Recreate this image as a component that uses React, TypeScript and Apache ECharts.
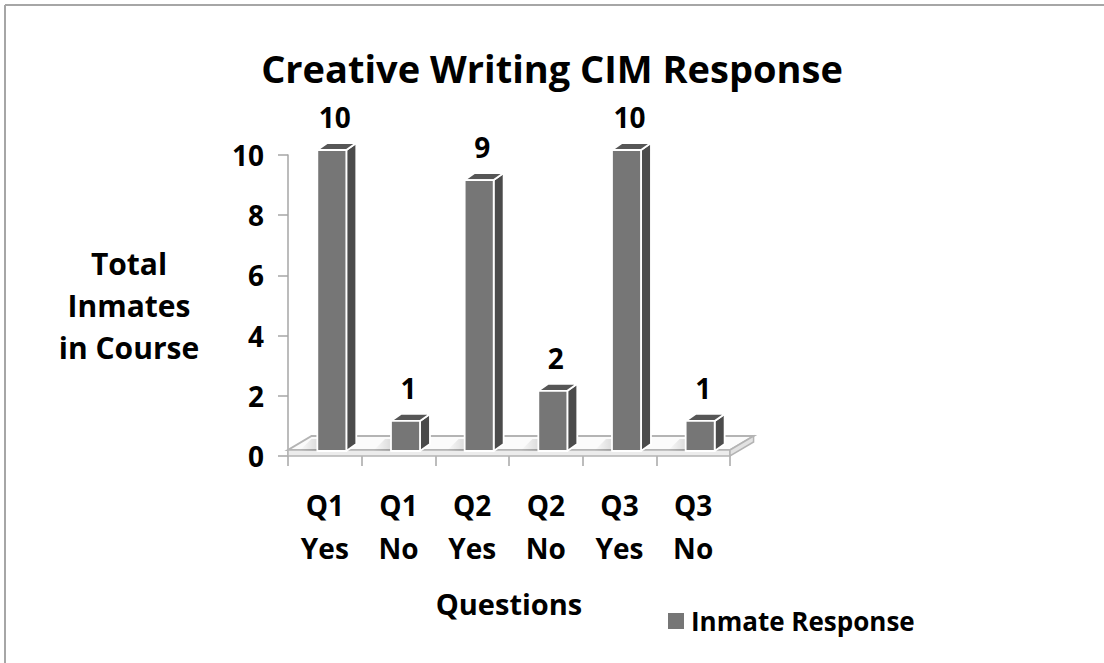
import React, { useEffect, useRef } from "react";
import * as echarts from "echarts";

const categories = ["Q1\nYes", "Q1\nNo", "Q2\nYes", "Q2\nNo", "Q3\nYes", "Q3\nNo"];
const values = [10, 1, 9, 2, 10, 1];
const seriesName = "Inmate Response";
const chartTitle = "Creative Writing CIM Response";
const yAxisTitle = "Total\nInmates\nin Course";
const xAxisTitle = "Questions";

const FONT = "'Open Sans', 'DejaVu Sans', sans-serif";

export default function App() {
  const ref = useRef<HTMLDivElement | null>(null);

  useEffect(() => {
    document.body.style.margin = "0";
    if (!ref.current) return;
    const chart = echarts.init(ref.current, null, { renderer: "svg" });

    const floorItem = (params: any, api: any) => {
      const first = api.coord([0, 0]);
      const last = api.coord([categories.length - 1, 0]);
      const bw = api.size([1, 0])[0];
      const x0 = first[0] - bw / 2;
      const x1 = last[0] + bw / 2;
      const yf = first[1];
      const th = 6;
      const ddx = bw * 0.32;
      const ddy = 14;
      const stroke = "#b4b4b4";
      return {
        type: "group",
        children: [
          {
            type: "polygon",
            shape: { points: [[x0, yf - th], [x1, yf - th], [x1 + ddx, yf - th - ddy], [x0 + ddx, yf - th - ddy]] },
            style: { fill: "#fbfbfb", stroke, lineWidth: 2 },
          },
          {
            type: "rect",
            shape: { x: x0, y: yf - th, width: x1 - x0, height: th },
            style: { fill: "#ececec", stroke, lineWidth: 1.5 },
          },
          {
            type: "polygon",
            shape: { points: [[x1, yf - th], [x1 + ddx, yf - th - ddy], [x1 + ddx, yf - ddy], [x1, yf]] },
            style: { fill: "#e2e2e2", stroke, lineWidth: 1.5 },
          },
        ],
      };
    };

    const barItem = (params: any, api: any) => {
      const i = api.value(0);
      const v = api.value(1);
      const base = api.coord([i, 0]);
      const top = api.coord([i, v]);
      const bw = api.size([1, 0])[0];
      const cx = base[0] + bw * 0.095;
      const half = bw * 0.197;
      const lift = 5;
      const yb = base[1] - lift;
      const yt = top[1] - lift;
      const dx = bw * 0.135;
      const dy = 7;
      const xl = cx - half;
      const xr = cx + half;
      const edge = { stroke: "#ffffff", lineWidth: 1.8, lineJoin: "round" };
      return {
        type: "group",
        children: [
          {
            type: "polygon",
            shape: { points: [[xl - 18, yb], [xl + 2, yb], [xl + 14, yb - 12], [xl - 6, yb - 12]] },
            style: {
              fill: new echarts.graphic.LinearGradient(0, 0, 1, 0, [
                { offset: 0, color: "rgba(0,0,0,0)" },
                { offset: 1, color: "rgba(0,0,0,0.22)" },
              ]),
            },
          },
          {
            type: "polygon",
            shape: { points: [[xr, yb], [xr + dx, yb - dy], [xr + dx, yt - dy], [xr, yt]] },
            style: { fill: "#4b4b4b", ...edge },
          },
          {
            type: "polygon",
            shape: { points: [[xl, yt], [xl + dx, yt - dy], [xr + dx, yt - dy], [xr, yt]] },
            style: { fill: "#565656", ...edge },
          },
          {
            type: "rect",
            shape: { x: xl, y: yt, width: xr - xl, height: yb - yt },
            style: { fill: "#767676", ...edge },
          },
          {
            type: "text",
            style: {
              text: String(v),
              x: cx + dx / 2 - 2,
              y: yt - dy - 12,
              align: "center",
              verticalAlign: "bottom",
              fontFamily: FONT,
              fontWeight: "bold",
              fontSize: 28,
              fill: "#000000",
            },
          },
        ],
      };
    };

    chart.setOption({
      animation: false,
      backgroundColor: "#ffffff",
      title: {
        text: chartTitle,
        left: "center",
        top: 44,
        textStyle: { fontFamily: FONT, fontWeight: "bold", fontSize: 38, color: "#000000" },
      },
      legend: {
        left: 663,
        top: 603,
        itemWidth: 16,
        itemHeight: 16,
        icon: "rect",
        data: [seriesName],
        textStyle: { fontFamily: FONT, fontWeight: "bold", fontSize: 26, color: "#000000", padding: [0, 0, 0, 2] },
      },
      grid: { left: 288, right: 374, top: 155, bottom: 207, containLabel: false },
      xAxis: {
        type: "category",
        data: categories,
        name: xAxisTitle,
        nameLocation: "middle",
        nameGap: 133,
        nameTextStyle: { fontFamily: FONT, fontWeight: "bold", fontSize: 29, color: "#000000" },
        axisLine: { show: false },
        axisTick: { show: true, length: 10, lineStyle: { color: "#a6a6a6", width: 1.5 } },
        axisLabel: {
          interval: 0,
          margin: 27,
          fontFamily: FONT,
          fontWeight: "bold",
          fontSize: 28,
          lineHeight: 43,
          color: "#000000",
        },
        splitLine: { show: false },
      },
      yAxis: {
        type: "value",
        min: 0,
        max: 10,
        interval: 2,
        name: yAxisTitle,
        nameLocation: "middle",
        nameRotate: 0,
        nameGap: 159,
        nameTextStyle: {
          fontFamily: FONT,
          fontWeight: "bold",
          fontSize: 30,
          lineHeight: 42,
          color: "#000000",
          align: "center",
        },
        axisLine: { show: true, lineStyle: { color: "#a6a6a6", width: 1.5 } },
        axisTick: { show: true, length: 10, lineStyle: { color: "#a6a6a6", width: 1.5 } },
        axisLabel: { margin: 24, fontFamily: FONT, fontWeight: "bold", fontSize: 28, color: "#000000" },
        splitLine: { show: false },
      },
      graphic: [
        { type: "line", shape: { x1: 5, y1: 5, x2: 1104, y2: 5 }, style: { stroke: "#a6a6a6", lineWidth: 2 } },
        { type: "line", shape: { x1: 5, y1: 5, x2: 5, y2: 663 }, style: { stroke: "#a6a6a6", lineWidth: 2 } },
      ],
      series: [
        {
          type: "custom",
          name: "floor",
          renderItem: floorItem,
          data: [[0, 0]],
          clip: false,
          silent: true,
          z: 1,
          encode: { x: 0, y: 1 },
        },
        {
          type: "custom",
          name: seriesName,
          renderItem: barItem,
          data: values.map((v, i) => [i, v]),
          clip: false,
          z: 2,
          itemStyle: { color: "#767676" },
          encode: { x: 0, y: 1 },
        },
      ],
    });

    return () => chart.dispose();
  }, []);

  return <div ref={ref} style={{ width: 1104, height: 663 }} />;
}
